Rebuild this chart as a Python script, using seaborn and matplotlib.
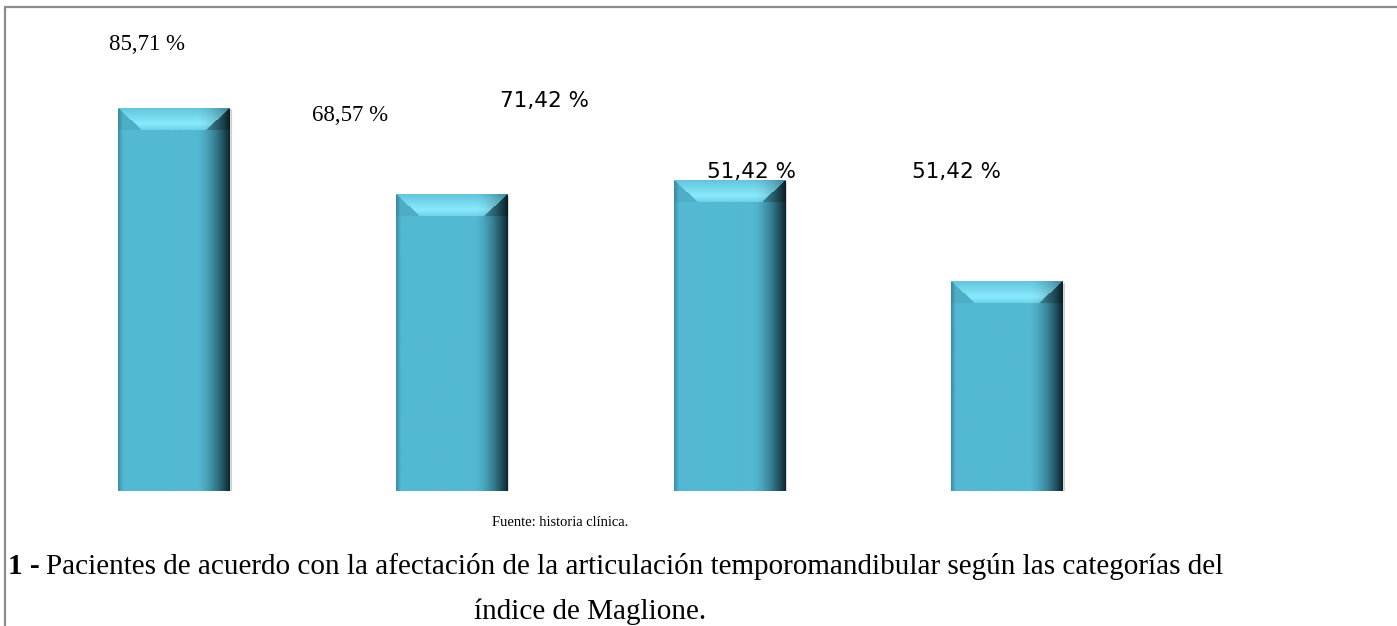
import numpy as np
import pandas as pd
import matplotlib
matplotlib.use("Agg")
import matplotlib.pyplot as plt
from matplotlib.lines import Line2D
import seaborn as sns

# ---------------- data ----------------
categories = ["Categoría 1", "Categoría 2", "Categoría 3", "Categoría 4"]
values = [85.71, 68.57, 71.42, 51.42]
label_texts = ["85,71 %", "68,57 %", "71,42 %", "51,42 %", "51,42 %"]

# ---------------- layout (text placement only) ----------------
label_x = [-0.095, 0.636, 1.337, 2.08, 2.82]       # category units
label_y = [98.4, 84.3, 87.1, 73.1, 73.1]            # value units
label_serif = [True, True, False, False, False]

sns.set_theme(style="white")
plt.rcParams["font.family"] = ["DejaVu Sans"]
plt.rcParams["text.color"] = "black"

W_PX, H_PX = 1397, 626
fig = plt.figure(figsize=(W_PX / 100, H_PX / 100), dpi=100)
fig.patch.set_facecolor("white")

ymin, ymax = 10, 100
ax = fig.add_axes([34.7 / W_PX, (H_PX - 491) / H_PX, 1111 / W_PX, 455 / H_PX])
df = pd.DataFrame({"cat": categories, "val": values})
sns.barplot(data=df, x="cat", y="val", width=0.4, color="#53B8D2",
            saturation=1, ax=ax, zorder=2)
ax.set_xlim(-0.5, 3.5)
ax.set_ylim(ymin, ymax)
ax.axis("off")

# ---------------- bevel / gradient shading of bars ----------------
kx = ax.bbox.width / 4.0
ky = ax.bbox.height / (ymax - ymin)

def hexrgb(h):
    h = h.lstrip("#")
    return np.array([int(h[i:i + 2], 16) for i in (0, 2, 4)]) / 255.0

body = hexrgb("#53B8D2")
dark = hexrgb("#0B242C")
leftc = hexrgb("#3A8CA3")
top0 = hexrgb("#63C6DE")
top1 = hexrgb("#8BEAFC")
top2 = hexrgb("#68D0E8")

for patch in ax.patches:
    x0 = patch.get_x()
    w = patch.get_width()
    top = patch.get_y() + patch.get_height()
    Wp = int(round(w * kx))
    Hp = int(round((top - ymin) * ky))
    u = (np.arange(Wp) + 0.5) / Wp
    tr = np.clip((u - 0.70) / 0.30, 0, 1) ** 1.6
    tl = np.clip(1 - u / 0.045, 0, 1)
    col = body[None, :] * (1 - tr[:, None]) + dark[None, :] * tr[:, None]
    col = col * (1 - tl[:, None]) + leftc[None, :] * tl[:, None]
    img = np.repeat(col[None, :, :], Hp, axis=0)
    B, side = 22, 24
    xs = np.arange(Wp)
    for r in range(min(B, Hp)):
        inset = side * r / B
        f = r / B
        if f < 0.7:
            tc = top0 + (top1 - top0) * (f / 0.7)
        else:
            tc = top1 + (top2 - top1) * ((f - 0.7) / 0.3)
        mid = (xs >= inset) & (xs <= Wp - 1 - inset)
        shade = (1 - 0.35 * tr[mid])[:, None]
        img[r, mid] = tc[None, :] * shade
        lft = xs < inset
        img[r, lft] = img[r, lft] * 0.95
        rgt = xs > Wp - 1 - inset
        img[r, rgt] = img[r, rgt] * 0.8
    ax.imshow(img, extent=(x0, x0 + w, ymin, top), aspect="auto",
              interpolation="bilinear", origin="upper", zorder=3)
    # faint shadow on the right side
    ax.add_line(Line2D([x0 + w + 1.5 / kx] * 2, [ymin, top - 2 / ky],
                       color="#d0d0d0", lw=1.5, zorder=1))

ax.set_xlim(-0.5, 3.5)
ax.set_ylim(ymin, ymax)

# ---------------- value labels ----------------
for txt, lx, ly, serif in zip(label_texts, label_x, label_y, label_serif):
    if serif:
        ax.text(lx, ly, txt, ha="center", va="center", fontsize=16.5,
                family="Liberation Serif", color="black", clip_on=False, zorder=5)
    else:
        ax.text(lx, ly, txt, ha="center", va="center", fontsize=15.5,
                family="DejaVu Sans", color="black", clip_on=False, zorder=5)

# ---------------- frame lines ----------------
fig.add_artist(Line2D([5 / W_PX, 1.0], [1 - 7 / H_PX] * 2, color="#8c8c8c", lw=1.6))
fig.add_artist(Line2D([5 / W_PX] * 2, [0, 1 - 7 / H_PX], color="#8c8c8c", lw=1.6))

# ---------------- captions ----------------
fig.text(560 / W_PX, 1 - 523 / H_PX, "Fuente: historia clínica.", ha="center",
         va="center", fontsize=10.5, family="Liberation Serif", color="black")
cap_size = 21
t1 = fig.text(8 / W_PX, 1 - 574 / H_PX, "1 -", ha="left", va="baseline",
              fontsize=cap_size, family="Liberation Serif", weight="bold", color="black")
fig.canvas.draw()
bb = t1.get_window_extent()
fig.text((bb.x1 + 6) / W_PX, 1 - 574 / H_PX,
         "Pacientes de acuerdo con la afectación de la articulación temporomandibular según las categorías del",
         ha="left", va="baseline", fontsize=cap_size, family="Liberation Serif", color="black")
fig.text(590 / W_PX, 1 - 619 / H_PX, "índice de Maglione.", ha="center",
         va="baseline", fontsize=cap_size, family="Liberation Serif", color="black")

fig.savefig("out.png", dpi=100, facecolor="white")
